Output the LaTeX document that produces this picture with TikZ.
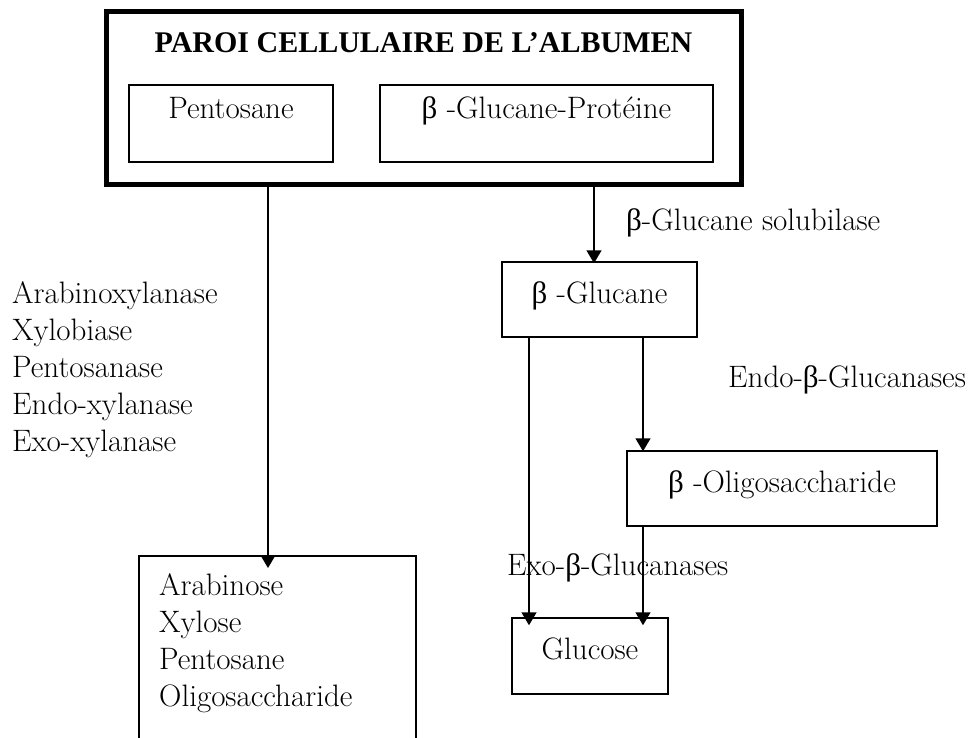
\documentclass[tikz,border=0pt]{standalone}
\usepackage{fontspec}
\newfontfamily\grec{Liberation Serif}
\newcommand{\be}{{\grec β}}
\usetikzlibrary{arrows.meta}

\begin{document}
\begin{tikzpicture}[x=1pt,y=-1pt,
    font=\fontsize{31}{37}\selectfont,
    fleche/.style={draw,line width=1.5pt,-{Triangle[width=15pt,length=13pt]}}]

        \useasboundingbox (0,0) rectangle (968,738);

        % abscisses des fleches
        \coordinate (xa) at (268,0);
        \coordinate (xb) at (594,0);
        \coordinate (xc) at (529,0);
        \coordinate (xd) at (643,0);

        \begin{scope}[every node/.style={draw,line width=1.5pt,inner sep=0pt}]
          \node[line width=5pt,minimum width=635pt,minimum height=173.5pt] (paroi) at (423.5,98) {};
          \node[minimum width=204pt,minimum height=77pt,text height=34pt,text depth=43pt] (pento) at (231,123.5) {Pentosane};
          \node[minimum width=333pt,minimum height=77pt,text height=34pt,text depth=43pt] (prot)  at (546.5,123.5) {\be\ -Glucane-Protéine};
          \node[minimum width=195pt,minimum height=75pt,text height=41pt,text depth=34pt] (glu)   at (599.5,299.5) {\be\ -Glucane};
          \node[minimum width=310pt,minimum height=75pt,text height=41pt,text depth=34pt] (oligo) at (782,488.5) {\be\ -Oligosaccharide};
          \node[minimum width=156pt,minimum height=76pt,text height=41pt,text depth=35pt] (gluc)  at (590,656) {Glucose};
          \node[minimum width=277pt,minimum height=230pt,anchor=north west] (arab) at (138,555) {};
        \end{scope}

        \node[anchor=base,font=\grec\fontsize{30}{34}\selectfont\bfseries] (titre) at (423.5,53) {PAROI CELLULAIRE DE L’ALBUMEN};

        \begin{scope}[every node/.style={inner sep=0pt}]
          \node[anchor=north west,align=left] (enzymes) at (12,281)
            {Arabinoxylanase\\Xylobiase\\Pentosanase\\Endo-xylanase\\Exo-xylanase};
          \node[anchor=north west,align=left] (sucres) at (159,573)
            {Arabinose\\Xylose\\Pentosane\\Oligosaccharide};
          \node[anchor=base west] (solub) at (626,230) {\be-Glucane solubilase};
          \node[anchor=base west] (endo)  at (728,387) {Endo-\be-Glucanases};
          \node[anchor=base west] (exo)   at (507,575) {Exo-\be-Glucanases};
        \end{scope}

        \draw[fleche,shorten >=-13pt] (paroi.south -| xa) -- (arab.north -| xa);
        \draw[fleche,shorten >=-2pt]  (paroi.south -| xb) -- (glu.north -| xb);
        \draw[fleche,shorten >=-8pt]  (glu.south -| xc) -- (gluc.north -| xc);
        \draw[fleche,shorten >=-1pt]  (glu.south -| xd) -- (oligo.north -| xd);
        \draw[fleche,shorten >=-8pt]  (oligo.south -| xd) -- (gluc.north -| xd);

      \end{tikzpicture}
\end{document}
